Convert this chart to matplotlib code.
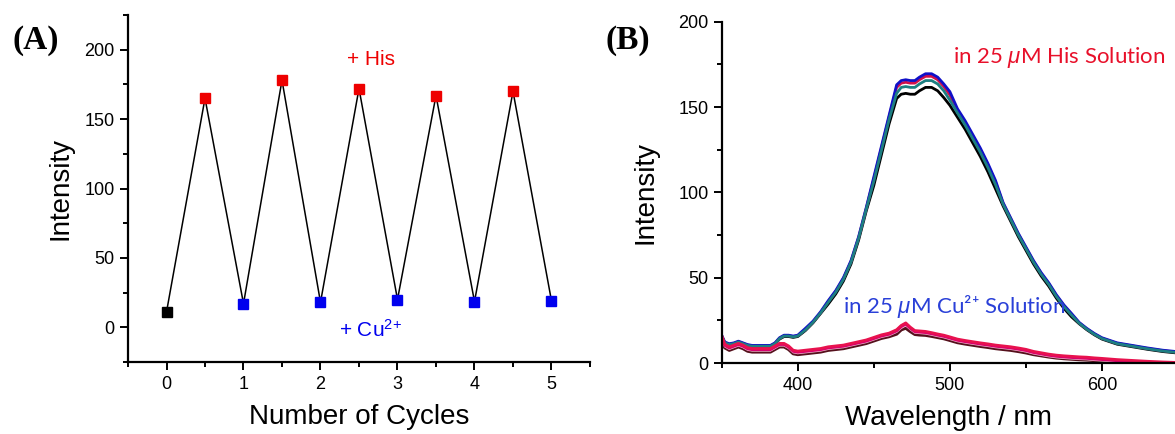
import matplotlib
matplotlib.use('Agg')
import matplotlib.pyplot as plt
from matplotlib.ticker import MultipleLocator

plt.rcParams['font.family'] = ['Liberation Sans', 'DejaVu Sans']
plt.rcParams['mathtext.fontset'] = 'custom'
plt.rcParams['mathtext.rm'] = 'Liberation Sans'
plt.rcParams['mathtext.it'] = 'Liberation Sans:italic'

# ---- panel A: on/off cycles ----
cycles = [0, 0.5, 1, 1.5, 2, 2.5, 3, 3.5, 4, 4.5, 5]
cycle_intensity = [11, 165, 17, 178, 18, 172, 20, 167, 18.5, 170, 19]
marker_colors = ['black', '#ee0000', '#0000ee', '#ee0000', '#0000ee', '#ee0000',
                 '#0000ee', '#ee0000', '#0000ee', '#ee0000', '#0000ee']

# ---- panel B: emission spectra ----
wavelength = [350, 352, 355, 358, 361, 364, 367, 370, 374, 378, 382, 385, 388, 391, 394, 397, 400,
              405, 410, 415, 420, 425, 430, 435, 440, 445, 450, 455, 460, 465,
              468, 471, 474, 477, 480, 484, 488, 492, 496,
              500, 505, 510, 515, 520, 525, 530, 535, 540, 545, 550, 555, 560, 565, 570, 575, 580, 585, 590, 595, 600,
              610, 620, 630, 640, 650]

his_black = [15.5, 11.5, 10.5, 11, 12, 11, 10, 9.5, 9.5, 9.5, 9.5, 11, 14, 15.5, 15.5, 15, 15.5,
             19, 23.5, 29, 34.5, 40.5, 48, 58, 72, 89, 104, 122, 140, 155,
             157.5, 158, 157.5, 157.5, 159.5, 161.5, 161.5, 159.5, 155.5,
             151, 144, 137, 129, 121, 112, 102, 92, 83, 74, 66, 58, 51, 45, 38, 32, 27, 23, 19.5, 16.5, 14,
             11, 9.5, 8, 6.7, 5.8]
his_red = [16, 12, 11, 11.5, 12.5, 11.5, 10.5, 10, 10, 10, 10, 11.5, 14.5, 16, 16, 15.5, 16,
           19.5, 24, 29.5, 36, 42, 49.5, 59.5, 73.5, 90.5, 108, 126, 144, 161.5,
           164, 164.5, 164, 164, 166, 168, 168, 166, 162,
           157, 148, 141, 133, 125, 116, 106, 93.5, 84.5, 75.5, 67.5, 59.5, 52.5, 46.5, 39.5, 33.5, 28.5, 23.5, 20, 17, 14.5,
           11.5, 10, 8.5, 7.2, 6.3]
his_blue = [16.3, 12.3, 11.3, 11.8, 12.8, 11.8, 10.8, 10.3, 10.3, 10.3, 10.3, 11.8, 14.8, 16.3, 16.3, 15.8, 16.3,
            20.3, 24.5, 30, 36.5, 42.5, 50, 60, 74, 91, 109, 127, 145, 163,
            165.5, 166, 165.5, 165.5, 167.5, 169.5, 169.5, 167.5, 163.5,
            159, 149, 142, 134, 126, 117, 107, 94, 85, 76, 68, 60, 53, 47, 40, 34, 29, 23.8, 20.3, 17.3, 14.8,
            11.8, 10.3, 8.8, 7.5, 6.6]
his_teal = [15.8, 11.8, 10.8, 11.3, 12.3, 11.3, 10.3, 9.8, 9.8, 9.8, 9.8, 11.3, 14.3, 15.8, 15.8, 15.3, 15.8,
            19.3, 23.8, 29.3, 35.5, 41.5, 49, 59, 73, 90, 106.5, 124.5, 142.5, 158,
            161.5, 162, 161.5, 161.5, 163.5, 165.5, 165.5, 163.5, 159.5,
            154, 146.5, 139.5, 131.5, 123.5, 114.5, 104.5, 93, 84, 75, 67, 59, 52, 46, 39, 33, 28, 23.3, 19.8, 16.8, 14.3,
            11.3, 9.8, 8.3, 7, 6.1]

cu_dark = [14, 9, 7.5, 8.5, 9.5, 8.5, 7, 6.5, 6.5, 6.5, 6.5, 8, 9.5, 9.5, 8, 5.5, 5,
           5.5, 6, 6.5, 7.5, 8, 8.5, 9.5, 10.5, 11.5, 13, 14.5, 15.5, 17,
           19.5, 20.5, 18.5, 16.8, 16.5, 16.3, 15.7, 15, 14.3,
           13.3, 12, 11.2, 10.5, 9.8, 9.2, 8.5, 8, 7.5, 6.8, 6, 5, 4.3, 3.6, 3, 2.6, 2.3, 2, 1.8, 1.5, 1.2,
           0.6, 0.2, 0, 0, 0]
cu_light = [14.7, 9.7, 8.2, 9.2, 10.2, 9.2, 7.7, 7.2, 7.2, 7.2, 7.2, 8.7, 10.2, 10.2, 8.7, 6.2, 5.7,
            6.2, 6.7, 7.2, 8.2, 8.7, 9.2, 10.2, 11.2, 12.2, 13.7, 15.2, 16.2, 18.2,
            20.5, 22, 19.7, 17.7, 17.5, 17.2, 16.5, 15.7, 15,
            14, 12.7, 11.9, 11.2, 10.5, 9.9, 9.2, 8.7, 8.2, 7.5, 6.7, 5.5, 4.7, 3.9, 3.3, 2.9, 2.6, 2.3, 2.1, 1.7, 1.4,
            0.7, 0.2, 0, 0, 0]
cu_magenta = [15.4, 10.4, 8.9, 9.9, 10.9, 9.9, 8.4, 7.9, 7.9, 7.9, 7.9, 9.4, 10.9, 10.9, 9.4, 6.9, 6.4,
              6.9, 7.4, 7.9, 8.9, 9.4, 9.9, 10.9, 11.9, 12.9, 14.4, 15.9, 16.9, 18.9,
              21.4, 22.9, 20.4, 18.4, 18.2, 17.9, 17.2, 16.4, 15.7,
              14.7, 13.4, 12.6, 11.9, 11.2, 10.6, 9.9, 9.4, 8.9, 8.2, 7.4, 6.2, 5.4, 4.6, 4, 3.6, 3.3, 3, 2.8, 2.4, 2.1,
              1.4, 0.9, 0.4, 0.1, 0]
cu_red = [16, 11, 9.5, 10.5, 11.5, 10.5, 9, 8.5, 8.5, 8.5, 8.5, 10, 11.5, 11.5, 10, 7.5, 7,
          7.5, 8, 8.5, 9.5, 10, 10.5, 11.5, 12.5, 13.5, 15, 16.5, 17.5, 19.5,
          22, 23.5, 21, 19, 18.8, 18.5, 17.8, 17, 16.3,
          15.3, 14, 13.2, 12.5, 11.8, 11.2, 10.5, 10, 9.5, 8.8, 8, 6.8, 6, 5.2, 4.6, 4.2, 3.9, 3.6, 3.4, 3, 2.7,
          2, 1.5, 1, 0.6, 0.3]

fig = plt.figure(figsize=(11.75, 4.34), dpi=100)


def style_axes(ax):
    for side in ['top', 'right']:
        ax.spines[side].set_visible(False)
    for side in ['left', 'bottom']:
        ax.spines[side].set_linewidth(1.6)
    ax.tick_params(which='major', direction='out', length=6, width=1.4, labelsize=13, colors='black')
    ax.tick_params(which='minor', direction='out', length=3.5, width=1.4)
    ax.tick_params(axis='x', pad=4)


# panel A
axA = fig.add_axes([128 / 1175, 1 - 362 / 434, 462 / 1175, 347 / 434])
axA.plot(cycles, cycle_intensity, color='black', lw=1.1, zorder=2)
for x, y, c in zip(cycles, cycle_intensity, marker_colors):
    axA.plot(x, y, marker='s', ms=7, color=c, mec=c, zorder=3)
axA.set_xlim(-0.5, 5.5)
axA.set_ylim(-25, 225)
axA.xaxis.set_major_locator(MultipleLocator(1))
axA.xaxis.set_minor_locator(MultipleLocator(0.5))
axA.yaxis.set_major_locator(MultipleLocator(50))
axA.yaxis.set_minor_locator(MultipleLocator(25))
style_axes(axA)
axA.set_xlabel('Number of Cycles', fontsize=20, labelpad=8)
axA.set_ylabel('Intensity', fontsize=20, labelpad=8)
axA.text(2.65, 193, '+ His', color='#ee0000', fontsize=15, ha='center', va='center')
axA.text(2.65, -2, '+ Cu$^{2\\!+}$', color='#0000ee', fontsize=15, ha='center', va='center')
fig.text(36 / 1175, 1 - 40 / 434, '(A)', fontsize=24, fontweight='bold',
         family='Liberation Serif', ha='center', va='center')

# panel B
axB = fig.add_axes([721.7 / 1175, 1 - 363 / 434, 1 - 721.7 / 1175, 341.3 / 434])
axB.plot(wavelength, his_black, color='black', lw=2.0)
axB.plot(wavelength, his_red, color='#d0104a', lw=2.0)
axB.plot(wavelength, his_blue, color='#1010c8', lw=2.0)
axB.plot(wavelength, his_teal, color='#1d7f82', lw=2.0)
axB.plot(wavelength, cu_dark, color='#55101c', lw=2.4)
axB.plot(wavelength, cu_light, color='#f6c0d2', lw=1.4)
axB.plot(wavelength, cu_magenta, color='#d8006e', lw=2.2)
axB.plot(wavelength, cu_red, color='#e8124e', lw=2.0)
axB.set_xlim(350, 648)
axB.set_ylim(0, 200)
axB.xaxis.set_major_locator(MultipleLocator(100))
axB.xaxis.set_minor_locator(MultipleLocator(50))
axB.yaxis.set_major_locator(MultipleLocator(50))
axB.yaxis.set_minor_locator(MultipleLocator(25))
style_axes(axB)
axB.set_xlabel('Wavelength / nm', fontsize=20, labelpad=8)
axB.set_ylabel('Intensity', fontsize=20, labelpad=14)
axB.text(572, 179, 'in 25 $\\mu$M His Solution', color='#e8102a', fontsize=16,
         family=['Lato', 'DejaVu Sans'], ha='center', va='center')
axB.text(503, 33, 'in 25 $\\mu$M Cu²⁺ Solution', color='#2a40d8', fontsize=16,
         family=['Lato', 'DejaVu Sans'], ha='center', va='center')
fig.text(628 / 1175, 1 - 40 / 434, '(B)', fontsize=24, fontweight='bold',
         family='Liberation Serif', ha='center', va='center')

fig.savefig('out.png', dpi=100)
